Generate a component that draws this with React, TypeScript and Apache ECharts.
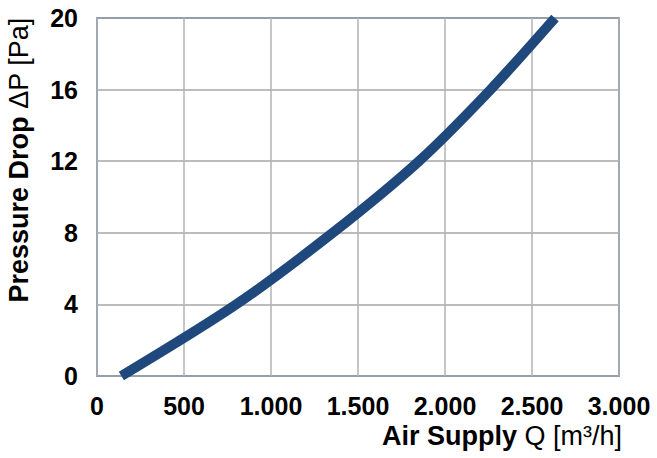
import React, { useEffect, useRef } from "react";
import * as echarts from "echarts";

const airSupply = [140, 800, 1355, 1850, 2262, 2632];
const pressureDrop = [0, 4, 8, 12, 16, 20];
const xTicks = [0, 500, 1000, 1500, 2000, 2500, 3000];
const yTicks = [0, 4, 8, 12, 16, 20];

const FONT = "'Liberation Sans', Arial, sans-serif";
const TICK_SIZE = 25;
const TITLE_SIZE = 27;

function fmt(v: number): string {
  return String(v).replace(/\B(?=(\d{3})+(?!\d))/g, ".");
}

export default function App() {
  const ref = useRef<HTMLDivElement>(null);
  useEffect(() => {
    if (!ref.current) return;
    const chart = echarts.init(ref.current, undefined, { renderer: "svg" });
    chart.setOption({
      animation: false,
      backgroundColor: "#ffffff",
      grid: {
        left: 97,
        right: 38,
        top: 18,
        bottom: 82,
        show: true,
        borderColor: "#3a5f8f",
        borderWidth: 1.5,
        backgroundColor: "transparent",
      },
      xAxis: {
        type: "value",
        min: xTicks[0],
        max: xTicks[xTicks.length - 1],
        interval: 500,
        axisLine: { show: false },
        axisTick: { show: false },
        splitLine: { show: true, lineStyle: { color: "#b3b3b3", width: 1.5 } },
        axisLabel: {
          formatter: (v: number) => fmt(v),
          fontFamily: FONT,
          fontWeight: "bold",
          fontSize: TICK_SIZE,
          color: "#000",
          margin: 17,
        },
      },
      yAxis: {
        type: "value",
        min: yTicks[0],
        max: yTicks[yTicks.length - 1],
        interval: 4,
        axisLine: { show: false },
        axisTick: { show: false },
        splitLine: { show: true, lineStyle: { color: "#a6a6a6", width: 1.5 } },
        axisLabel: {
          fontFamily: FONT,
          fontWeight: "bold",
          fontSize: TICK_SIZE,
          color: "#000",
          margin: 19,
        },
      },
      graphic: [
        {
          type: "text",
          x: 19,
          y: 160,
          rotation: Math.PI / 2,
          style: {
            text: "{b|Pressure Drop }{n|ΔP [Pa]}",
            align: "center",
            verticalAlign: "middle",
            rich: {
              b: { fontFamily: FONT, fontWeight: "bold", fontSize: TITLE_SIZE, fill: "#000" },
              n: { fontFamily: FONT, fontWeight: "normal", fontSize: TITLE_SIZE, fill: "#000" },
            },
          },
        },
        {
          type: "text",
          x: 622,
          y: 436,
          style: {
            text: "{b|Air Supply }{n|Q [m³/h]}",
            align: "right",
            verticalAlign: "middle",
            rich: {
              b: { fontFamily: FONT, fontWeight: "bold", fontSize: TITLE_SIZE, fill: "#000" },
              n: { fontFamily: FONT, fontWeight: "normal", fontSize: TITLE_SIZE, fill: "#000" },
            },
          },
        },
      ],
      series: [
        {
          type: "line",
          data: airSupply.map((q, i) => [q, pressureDrop[i]]),
          smooth: 0.3,
          showSymbol: false,
          clip: true,
          lineStyle: { color: "#1f497d", width: 10, cap: "butt" },
        },
      ],
    });
    return () => chart.dispose();
  }, []);
  return (
    <div
      ref={ref}
      style={{ position: "fixed", left: 0, top: 0, width: 657, height: 458 }}
    />
  );
}
